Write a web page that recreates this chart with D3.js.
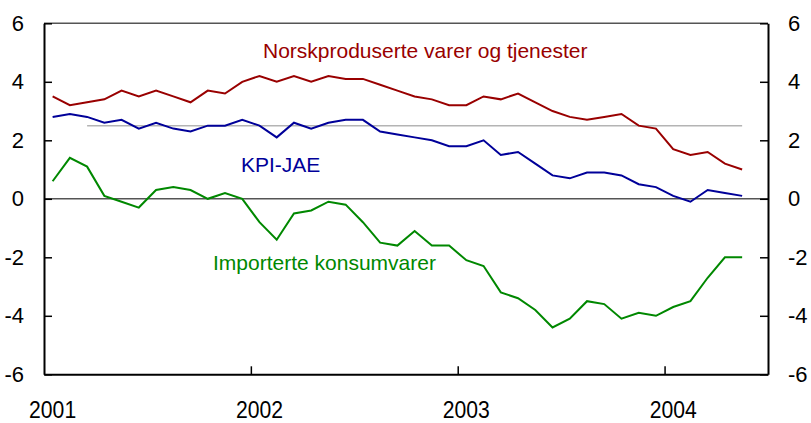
<!DOCTYPE html>
<html>
<head>
<meta charset="utf-8">
<script src="https://cdn.jsdelivr.net/npm/d3@7"></script>
<style>
  body { margin: 0; background: #fff; }
  text { font-family: Arial, "Liberation Sans", sans-serif; }
</style>
</head>
<body>
<svg id="chart"></svg>
<script>
// Monthly values, Jan 2001 - May 2004
const years = ["2001", "2002", "2003", "2004"];
const yTicks = [-6, -4, -2, 0, 2, 4, 6];
const norsk = [3.5, 3.2, 3.3, 3.4, 3.7, 3.5, 3.7, 3.5, 3.3, 3.7, 3.6, 4.0,
    4.2, 4.0, 4.2, 4.0, 4.2, 4.1, 4.1, 3.9, 3.7, 3.5, 3.4, 3.2, 3.2, 3.5, 3.4, 3.6,
    3.3, 3.0, 2.8, 2.7, 2.8, 2.9, 2.5, 2.4, 1.7, 1.5, 1.6, 1.2, 1.0];
const kpiJae = [2.8, 2.9, 2.8, 2.6, 2.7, 2.4, 2.6, 2.4, 2.3, 2.5, 2.5, 2.7,
    2.5, 2.1, 2.6, 2.4, 2.6, 2.7, 2.7, 2.3, 2.2, 2.1, 2.0, 1.8, 1.8, 2.0, 1.5, 1.6,
    1.2, 0.8, 0.7, 0.9, 0.9, 0.8, 0.5, 0.4, 0.1, -0.1, 0.3, 0.2, 0.1];
const importerte = [0.6, 1.4, 1.1, 0.1, -0.1, -0.3, 0.3, 0.4, 0.3, 0.0, 0.2, 0.0,
    -0.8, -1.4, -0.5, -0.4, -0.1, -0.2, -0.8, -1.5, -1.6, -1.1, -1.6, -1.6, -2.1, -2.3, -3.2, -3.4,
    -3.8, -4.4, -4.1, -3.5, -3.6, -4.1, -3.9, -4.0, -3.7, -3.5, -2.7, -2.0, -2.0];
// inflation target line, from Mar 2001 to last month
const target = 2.5;
const targetStart = 2;

(() => {
    const width = 811, height = 423;
    const left = 44, right = 768, top = 23.3, bottom = 374.3;

    const svg = d3.select("#chart")
        .attr("width", width)
        .attr("height", height);

    const x = d3.scaleLinear().domain([0, 42]).range([left, right]);
    const y = d3.scaleLinear().domain([-6, 6]).range([bottom, top]);

    // frame top (grey)
    svg.append("line")
        .attr("x1", left).attr("x2", right)
        .attr("y1", top).attr("y2", top)
        .attr("stroke", "#555").attr("stroke-width", 1.5);

    // zero line
    svg.append("line")
        .attr("x1", left).attr("x2", right)
        .attr("y1", y(0)).attr("y2", y(0))
        .attr("stroke", "#555").attr("stroke-width", 1.5);

    // target line
    svg.append("line")
        .attr("x1", x(targetStart + 0.5)).attr("x2", x(norsk.length - 0.5))
        .attr("y1", y(target)).attr("y2", y(target))
        .attr("stroke", "#b4b4b4").attr("stroke-width", 1.5);

    const styleAxis = g => {
        g.select(".domain").attr("stroke", "#000").attr("stroke-width", 2);
        g.selectAll(".tick line").attr("stroke", "#000").attr("stroke-width", 1.5);
        g.selectAll("text").attr("font-size", "22px").attr("fill", "#000")
            .attr("font-family", "Arial, 'Liberation Sans', sans-serif");
    };

    const fmt = d => String(d); // plain hyphen minus like the original

    svg.append("g")
        .attr("transform", `translate(${left},0)`)
        .call(d3.axisLeft(y).tickValues(yTicks).tickFormat(fmt).tickSizeInner(-8).tickSizeOuter(0).tickPadding(20))
        .call(styleAxis);

    svg.append("g")
        .attr("transform", `translate(${right},0)`)
        .call(d3.axisRight(y).tickValues(yTicks).tickFormat(fmt).tickSizeInner(-8).tickSizeOuter(0).tickPadding(20))
        .call(styleAxis);

    svg.append("g")
        .attr("transform", `translate(0,${bottom})`)
        .call(d3.axisBottom(x).tickValues([12, 24, 36]).tickSizeInner(-8).tickSizeOuter(0).tickFormat(""))
        .call(styleAxis);

    // year labels
    svg.append("g").selectAll("text")
        .data(years)
        .enter()
        .append("text")
        .attr("text-anchor", "middle")
        .attr("transform", (d, i) => `translate(${x(i * 12 + 0.5)},417.5) scale(0.92,1.05)`)
        .attr("font-size", "23px")
        .attr("fill", "#000")
        .text(d => d);

    const line = d3.line()
        .x((d, i) => x(i + 0.5))
        .y(d => y(d));

    const series = [
        { values: norsk, color: "#990000", label: "Norskproduserte varer og tjenester", lx: 263, ly: 58 },
        { values: kpiJae, color: "#000099", label: "KPI-JAE", lx: 241, ly: 171.5 },
        { values: importerte, color: "#008800", label: "Importerte konsumvarer", lx: 213, ly: 270 }
    ];

    svg.append("g").selectAll("path")
        .data(series)
        .enter()
        .append("path")
        .attr("d", d => line(d.values))
        .attr("fill", "none")
        .attr("stroke", d => d.color)
        .attr("stroke-width", 2);

    svg.append("g").selectAll("text")
        .data(series)
        .enter()
        .append("text")
        .attr("x", d => d.lx)
        .attr("y", d => d.ly)
        .attr("font-size", "21px")
        .attr("fill", d => d.color)
        .text(d => d.label);
})();
</script>
</body>
</html>
